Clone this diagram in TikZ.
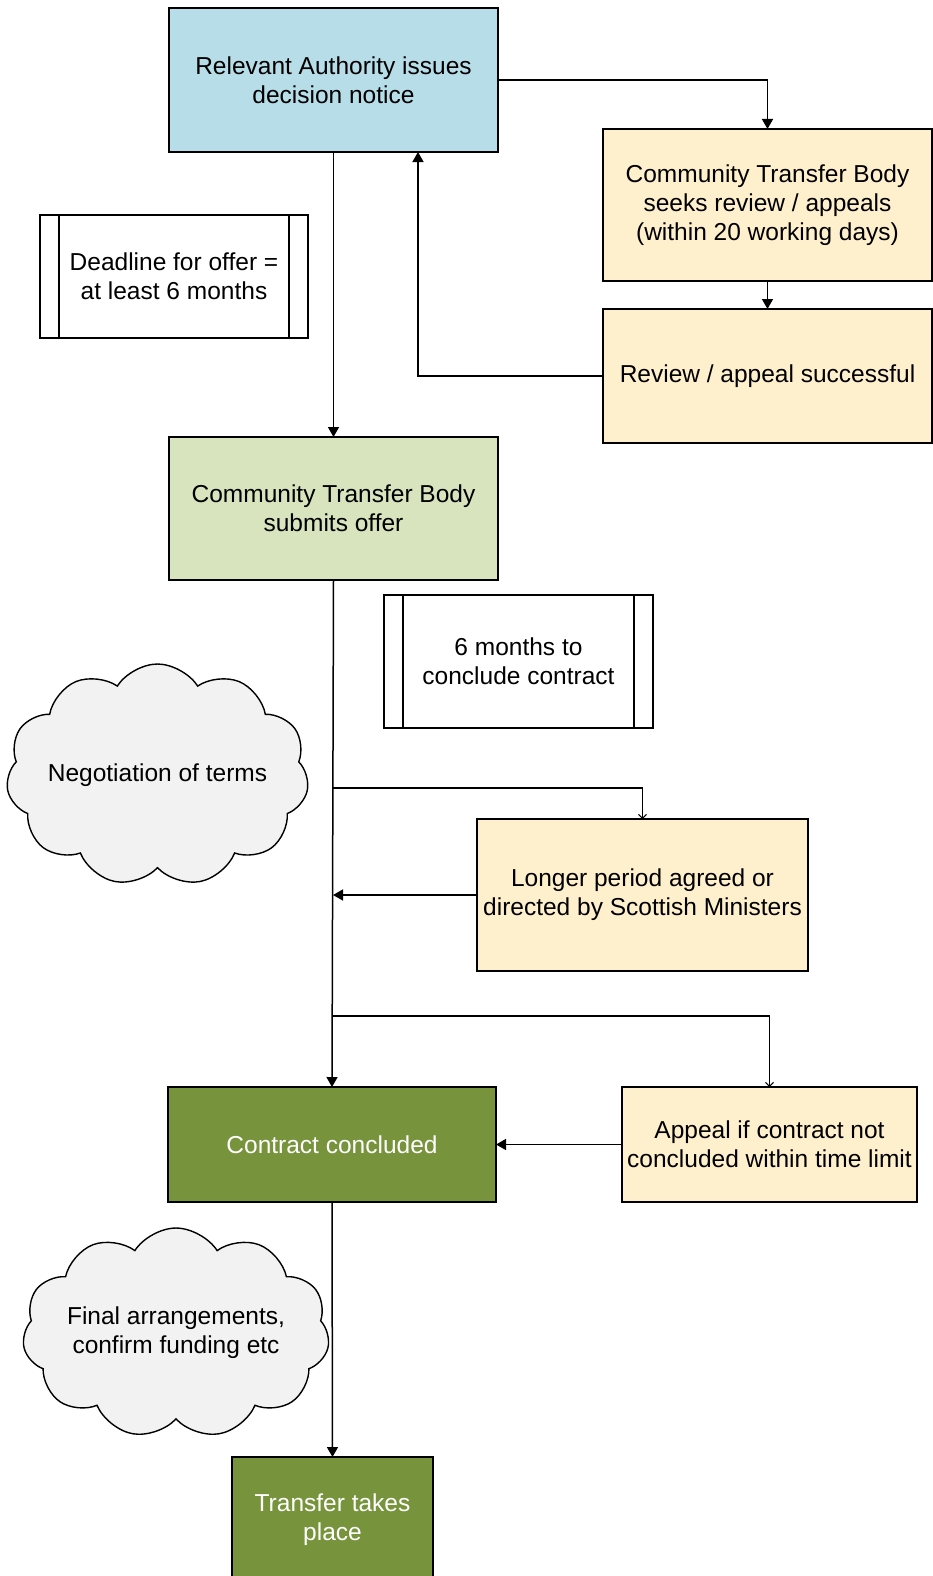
\documentclass[tikz,border=0pt]{standalone}
\usepackage{fontspec}
\setmainfont{Liberation Sans}
\usetikzlibrary{shapes.symbols,arrows.meta,calc}
\definecolor{lblue}{HTML}{B7DDE8}
\definecolor{lgreen}{HTML}{D7E4BD}
\definecolor{lyellow}{HTML}{FFF0CD}
\definecolor{dgreen}{HTML}{77933C}
\definecolor{cloudgray}{HTML}{F2F2F2}
\tikzset{
  box/.style={draw=black, line width=1.8pt, inner sep=0pt, outer sep=0pt, align=center,
    font=\fontsize{24.5}{29}\selectfont, text=black},
  bluebox/.style={box, fill=lblue},
  greenbox/.style={box, fill=lgreen},
  yellowbox/.style={box, fill=lyellow},
  darkbox/.style={box, fill=dgreen, text=white},
  barbox/.style={box, fill=white,
    path picture={
      \draw[line width=1.4pt] ([xshift=19pt]path picture bounding box.north west) -- ([xshift=19pt]path picture bounding box.south west);
      \draw[line width=1.4pt] ([xshift=-19pt]path picture bounding box.north east) -- ([xshift=-19pt]path picture bounding box.south east);
    }},
  cloudnode/.style={cloud, cloud puffs=11, cloud puff arc=115, cloud ignores aspect,
    draw=black, line width=1.4pt, fill=cloudgray, inner sep=0pt, align=center,
    font=\fontsize{24.5}{29}\selectfont, text=black},
  conn/.style={line width=1.5pt, -{Triangle[length=10pt,width=11pt]}},
  thinconn/.style={line width=1.2pt, -{Straight Barb[length=4pt,width=8pt,line width=1pt]}}
}
\begin{document}
\begin{tikzpicture}[x=1pt,y=-1pt]
\clip (0,0) rectangle (933,1576);
\fill[white] (0,0) rectangle (933,1576);

% boxes
\node[bluebox, minimum width=329pt, minimum height=144pt] (b1) at (333.5,80) {Relevant Authority issues\\decision notice};
\node[yellowbox, minimum width=329pt, minimum height=152pt] (b2) at (767.5,205) {Community Transfer Body\\seeks review / appeals\\(within 20 working days)};
\node[yellowbox, minimum width=329pt, minimum height=134pt] (b3) at (767.5,376) {Review / appeal successful};
\node[barbox, minimum width=268pt, minimum height=123pt] (dl) at (174,276.5) {Deadline for offer =\\at least 6 months};
\node[greenbox, minimum width=329pt, minimum height=143pt] (b4) at (333.5,508.5) {Community Transfer Body\\submits offer};
\node[barbox, minimum width=269pt, minimum height=133pt] (sm) at (518.5,661.5) {6 months to\\conclude contract};
\node[cloudnode, minimum width=287pt, minimum height=222pt] (c1) at (157.5,775) {Negotiation of terms};
\node[yellowbox, minimum width=331pt, minimum height=152pt] (b5) at (642.5,895) {Longer period agreed or\\directed by Scottish Ministers};
\node[darkbox, minimum width=328pt, minimum height=115pt] (b6) at (332,1144.5) {Contract concluded};
\node[yellowbox, minimum width=295pt, minimum height=115pt] (b7) at (769.5,1144.5) {Appeal if contract not\\concluded within time limit};
\node[cloudnode, minimum width=294pt, minimum height=210pt] (c2) at (176,1333) {Final arrangements,\\confirm funding etc};
\node[darkbox, minimum width=201pt, minimum height=125pt] (b8) at (332.5,1519.5) {Transfer takes\\place};

% coordinates
\coordinate (j1) at (333,788);
\coordinate (j2) at (333,895);
\coordinate (j3) at (333,1016);

% connectors
\draw[conn] (b1.south) -- (b4.north);
\draw[conn] (b1.east |- 0,80) -| (b2.north);
\draw[conn] (b2.south) -- (b3.north);
\draw[conn] (b3.west) -| (418,0 |- b1.south);
\draw[conn] (b4.south) -- (b6.north);
\draw[thinconn] (j1) -| (b5.north);
\draw[conn] (b5.west) -- (j2);
\draw[thinconn] (j3) -| (b7.north);
\draw[conn] (b7.west) -- (b6.east);
\draw[conn] (b6.south) -- (b8.north);
\end{tikzpicture}
\end{document}
